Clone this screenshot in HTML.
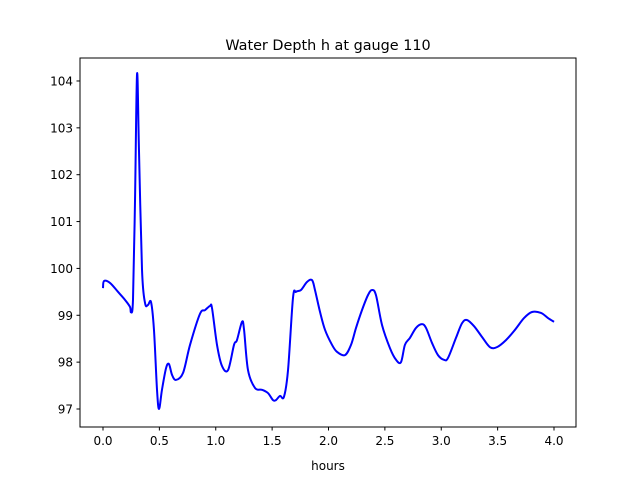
<!DOCTYPE html>
<html><head><meta charset="utf-8"><style>
body{margin:0;background:#fff;}
svg{display:block;font-family:"DejaVu Sans","Liberation Sans",sans-serif;}
</style></head><body>
<svg id="chart" width="640" height="480" xmlns="http://www.w3.org/2000/svg">
<rect width="640" height="480" fill="#fff"/>
<text x="328" y="50" text-anchor="middle" font-size="14.4">Water Depth h at gauge 110</text>
<g id="plot"></g>
<rect x="80" y="58" width="496" height="369" fill="none" stroke="#000" stroke-width="1"/>
<text x="328" y="470" text-anchor="middle" font-size="12">hours</text>
</svg>
<script>
const hours=[0,.009,.062,.133,.195,.239,.248,.266,.284,.302,.319,.346,.373,.399,.426,.452,.479,.497,.523,.559,.585,.612,.647,.710,.772,.860,.905,.949,.967,1.011,1.055,1.109,1.162,1.188,1.233,1.251,1.286,1.348,1.410,1.463,1.508,1.534,1.570,1.605,1.641,1.685,1.712,1.756,1.809,1.854,1.880,1.925,1.969,2.031,2.075,2.146,2.200,2.244,2.297,2.350,2.386,2.421,2.475,2.545,2.599,2.643,2.678,2.723,2.776,2.829,2.865,2.918,2.971,3.024,3.060,3.131,3.184,3.228,3.290,3.361,3.432,3.494,3.574,3.654,3.734,3.805,3.885,3.947,4.0];
const depth=[99.58,99.73,99.69,99.50,99.33,99.18,99.07,99.33,101.46,104.15,102.53,99.97,99.26,99.22,99.28,98.69,97.41,97.00,97.41,97.87,97.96,97.73,97.62,97.77,98.37,99.03,99.11,99.20,99.15,98.37,97.92,97.83,98.37,98.47,98.86,98.69,97.83,97.45,97.41,97.34,97.19,97.19,97.28,97.26,97.83,99.37,99.50,99.54,99.71,99.75,99.54,99.07,98.69,98.37,98.22,98.15,98.37,98.73,99.11,99.43,99.54,99.43,98.79,98.30,98.05,98.00,98.37,98.52,98.73,98.81,98.73,98.41,98.15,98.05,98.09,98.52,98.83,98.90,98.77,98.54,98.32,98.32,98.47,98.69,98.94,99.07,99.05,98.94,98.86];
const xTicks=[0,0.5,1,1.5,2,2.5,3,3.5,4];
const xTickLabels=["0.0","0.5","1.0","1.5","2.0","2.5","3.0","3.5","4.0"];
const yTicks=[97,98,99,100,101,102,103,104];
const yTickLabels=["97","98","99","100","101","102","103","104"];

const X=h=>103+h*112.75;
const Y=v=>409-(v-97)*46.86;
const NS="http://www.w3.org/2000/svg";
const svg=document.getElementById('chart');
const g=document.getElementById('plot');
function mk(t,a,p){const e=document.createElementNS(NS,t);for(const k in a)e.setAttribute(k,a[k]);(p||svg).appendChild(e);return e;}

xTicks.forEach((t,i)=>{
  const l=mk('line',{x1:X(t),x2:X(t),y1:427,y2:430.5,stroke:'#000'});
  
  
  const tx=mk('text',{x:X(t),y:445,'text-anchor':'middle','font-size':12});
  tx.textContent=xTickLabels[i];
  
  
});
yTicks.forEach((t,i)=>{
  const l=mk('line',{x1:76.5,x2:80,y1:Y(t),y2:Y(t),stroke:'#000'});
  
  
  const tx=mk('text',{x:73,y:Y(t)+4.5,'text-anchor':'end','font-size':12});
  tx.textContent=yTickLabels[i];
  
  
});

const pts=hours.map((h,i)=>[X(h),Y(depth[i])]);
let d='M'+pts[0][0]+','+pts[0][1];
for(let i=0;i<pts.length-1;i++){
  const p0=pts[Math.max(0,i-1)],p1=pts[i],p2=pts[i+1],p3=pts[Math.min(pts.length-1,i+2)];
  const c1=[p1[0]+(p2[0]-p0[0])/6,p1[1]+(p2[1]-p0[1])/6];
  const c2=[p2[0]-(p3[0]-p1[0])/6,p2[1]-(p3[1]-p1[1])/6];
  d+=`C${c1[0]},${c1[1]} ${c2[0]},${c2[1]} ${p2[0]},${p2[1]}`;
}
const line=mk('path',{d:d,fill:'none',stroke:'#0000ff','stroke-width':2,'stroke-linejoin':'round'},g);


</script>
</body></html>
